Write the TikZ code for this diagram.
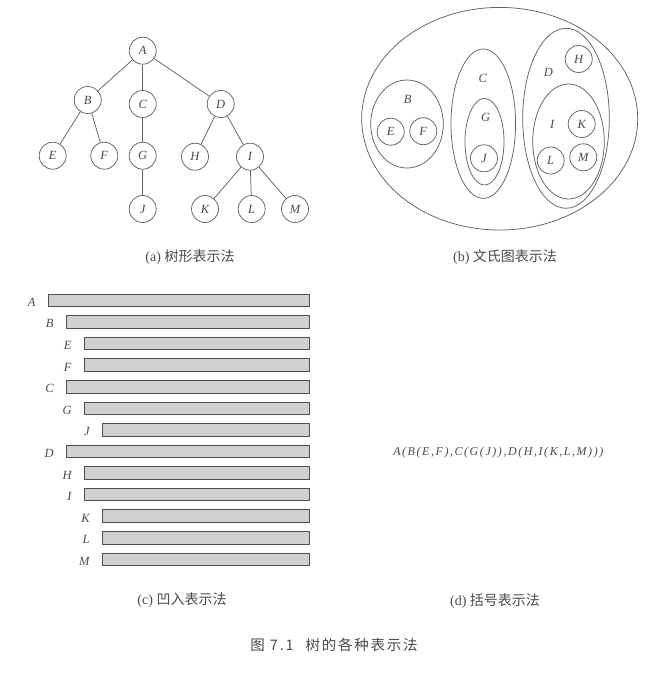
\documentclass[tikz,border=0pt]{standalone}
\usepackage{fontspec}
\setmainfont{Liberation Serif}
\newfontfamily\cjk{Noto Sans CJK SC}
\usetikzlibrary{positioning,calc}
\definecolor{ink}{HTML}{4A4A4A}
\definecolor{edge}{HTML}{626262}
\definecolor{barfill}{HTML}{D0D0D0}

\begin{document}
\begin{tikzpicture}[x=1pt,y=-1pt,line width=0.75pt,
  every node/.style={font=\fontsize{12.5}{14}\selectfont\itshape,text=ink},
  vtx/.style={draw=edge,circle,minimum size=27pt,inner sep=0pt},
  venn/.style={draw=edge},
  bar/.style={draw=edge!80!black,fill=barfill,minimum height=12.5pt,inner sep=0pt,anchor=west},
  captext/.style={font=\fontsize{14}{16}\selectfont\upshape,text=ink}]
\useasboundingbox (0,0) rectangle (665,678);
% (a) tree
\node[vtx] (A) at (142.7,50.7) {A};
\node[vtx] (B) at (87.7,100) {B};
\node[vtx] (C) at (142.7,104) {C};
\node[vtx] (D) at (220.7,104) {D};
\node[vtx] (E) at (52.7,155.7) {E};
\node[vtx] (F) at (104.3,155.7) {F};
\node[vtx] (G) at (142.7,155.7) {G};
\node[vtx] (H) at (195,156.7) {H};
\node[vtx] (I) at (250,156.7) {I};
\node[vtx] (J) at (142.7,209) {J};
\node[vtx] (K) at (205,209) {K};
\node[vtx] (L) at (251.7,209) {L};
\node[vtx] (M) at (295,209) {M};
\foreach \p/\c in {A/B,A/C,A/D,B/E,B/F,C/G,G/J,D/H,D/I,I/K,I/L,I/M}
  \draw[edge] (\p)--(\c);
\node[captext] (capa) at (190,257.5) {(a) {\cjk 树形表示法}};
% (b) venn diagram
\draw[venn] (499.7,118.7) ellipse [x radius=138,y radius=111.3];
\draw[venn] (407,124) ellipse [x radius=36.3,y radius=44];
\draw[venn] (483.3,123.7) ellipse [x radius=32.3,y radius=74.7];
\draw[venn] (484.5,141.7) ellipse [x radius=19.5,y radius=43.3];
\draw[venn] (566,118.3) ellipse [x radius=43.3,y radius=90];
\draw[venn] (568.5,141.5) ellipse [x radius=35.8,y radius=57.5];
\node (vB) at (407.7,99) {B};
\node (vC) at (482.7,78.3) {C};
\node (vG) at (485.7,117.3) {G};
\node (vD) at (548.3,72.7) {D};
\node (vI) at (552.3,124) {I};
\node[vtx] (vE) at (390.7,131.7) {E};
\node[vtx] (vF) at (423.3,131.2) {F};
\node[vtx] (vJ) at (484,158.3) {J};
\node[vtx] (vH) at (578.7,59) {H};
\node[vtx] (vK) at (581.7,124) {K};
\node[vtx] (vL) at (550.7,160.5) {L};
\node[vtx] (vM) at (583.3,157.3) {M};
\node[captext] (capb) at (505,256.7) {(b) {\cjk 文氏图表示法}};
% (c) indented bars
\foreach \n/\lev [count=\i from 0] in {A/0,B/1,E/2,F/2,C/1,G/2,J/3,D/1,H/2,I/2,K/3,L/3,M/3}{
  \node[bar,minimum width={261pt-\lev*18pt}] (bar\n) at ({48.3+\lev*18},{300.3+\i*21.58}) {};
  \node[left=9pt of bar\n.west,yshift=-2pt] (lab\n) {\n};
}
\node[captext] (capc) at (182,600.5) {(c) {\cjk 凹入表示法}};
% (d) brackets
\node[font=\fontsize{12}{14}\selectfont\itshape\addfontfeature{LetterSpace=13}] (expr) at (498.3,452.3) {A(B(E,F),C(G(J)),D(H,I(K,L,M)))};
\node[captext] (capd) at (495,601) {(d) {\cjk 括号表示法}};
\node[captext,font=\fontsize{14.5}{16}\selectfont\cjk\addfontfeature{LetterSpace=12}] (title) at (334,645) {图 7.1\hspace{12pt}树的各种表示法};
\end{tikzpicture}
\end{document}
